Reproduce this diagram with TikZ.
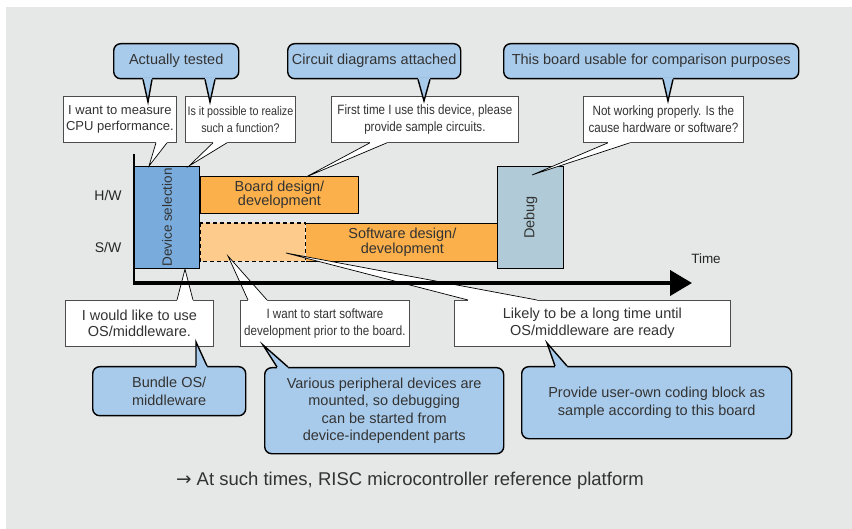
\documentclass[tikz,border=0pt]{standalone}
\usepackage{fontspec}
\setmainfont{Liberation Sans}
\newfontfamily\narrowsans[FakeStretch=0.86]{Liberation Sans}
\newfontfamily\arrowsans{DejaVu Sans}
\usetikzlibrary{arrows.meta,positioning,calc}
\definecolor{panelgrey}{HTML}{E6E7E7}
\definecolor{calloutblue}{HTML}{A9CBEB}
\definecolor{deviceblue}{HTML}{79ACDD}
\definecolor{phaseorange}{HTML}{FBB04B}
\definecolor{phaselight}{HTML}{FDCB8C}
\definecolor{debugblue}{HTML}{B0CBD7}
\definecolor{inkgrey}{HTML}{333333}
\tikzset{
  askbox/.style={
    rectangle,
    draw=black!70,
    fill=white,
    line width=0.8pt,
    align=center,
    anchor=north west,
    inner sep=2pt,
    text=inkgrey,
    font=\fontsize{14.5pt}{16.7pt}\selectfont
  },
  asknarrow/.style={
    askbox,
    font=\narrowsans\fontsize{13.5pt}{16.7pt}\selectfont
  },
  answerbox/.style={
    rectangle,
    draw=black,
    fill=calloutblue,
    line width=1.4pt,
    rounded corners=7pt,
    align=center,
    anchor=north west,
    text=inkgrey,
    font=\fontsize{14.5pt}{17.5pt}\selectfont
  },
  phasebox/.style={
    rectangle,
    draw=black,
    line width=0.9pt,
    align=center,
    anchor=north west,
    text=inkgrey,
    font=\fontsize{14.5pt}{14.5pt}\selectfont
  },
  phasetext/.style={
    rotate=90,
    text=inkgrey,
    font=\fontsize{13.5pt}{14pt}\selectfont
  },
  axislabel/.style={
    text=black!85,
    font=\fontsize{14pt}{16pt}\selectfont
  },
  askptr/.style={fill=white},
  askptrline/.style={draw=black, line width=0.7pt},
  answerptr/.style={fill=calloutblue},
  answerptrline/.style={draw=black, line width=1.4pt}
}
% #1 kind, #2 and #3 base on the source box, #4 tip, #5 shift into the source box
\newcommand{\callptr}[5]{%
  \fill[#1ptr] ($#2+#5$) -- ($#2$) -- ($#4$) -- ($#3$) -- ($#3+#5$) -- cycle;
  \draw[#1ptrline] ($#2$) -- ($#4$) -- ($#3$);
}

\begin{document}
\begin{tikzpicture}[x=1pt,y=-1pt]
  \useasboundingbox (0,0) rectangle (852,529);
  \fill[panelgrey] (6,7) rectangle (852,529);

  % phases on the time line
  \node[phasebox,fill=deviceblue,line width=1.2pt,minimum width=65pt,minimum height=102pt] (device) at (134,166) {};
  \node[phasetext] (devicetext) at (device.center) {Device selection};
  \node[phasebox,fill=phaseorange,minimum width=158pt,minimum height=37pt] (board) at (200,176)
    {Board design/\\development};
  \node[phasebox,draw=none,fill=phaselight,minimum width=105pt,minimum height=38pt] (swpre) at (200,223) {};
  \node[phasebox,draw=none,fill=phaseorange,minimum width=192pt,minimum height=38pt,right=0pt of swpre] (software)
    {Software design/\\development};
  \draw[line width=0.9pt] (software.north west) -- (software.north east)
    -- (software.south east) -- (software.south west);
  \draw[line width=1.1pt,dash pattern=on 4pt off 3pt] (swpre.north west) rectangle (swpre.south east);
  \node[phasebox,fill=debugblue,line width=1.2pt,minimum width=66pt,minimum height=102pt] (debug) at (497,166) {};
  \node[phasetext,font=\fontsize{14.5pt}{15pt}\selectfont] (debugtext) at (debug.center) {Debug};

  % questions
  \node[askbox,minimum width=113pt,minimum height=46pt,font=\fontsize{13pt}{16.7pt}\selectfont] (measure) at (63,96)
    {I want to measure\\CPU performance.};
  \node[asknarrow,minimum width=110pt,minimum height=46pt,font=\narrowsans\fontsize{12.5pt}{16.7pt}\selectfont] (realize) at (185,96)
    {Is it possible to realize\\such a function?};
  \node[asknarrow,minimum width=187pt,minimum height=46pt] (firsttime) at (331,96)
    {First time I use this device, please\\provide sample circuits.};
  \node[asknarrow,minimum width=160pt,minimum height=46pt] (notworking) at (583,96)
    {Not working properly. Is the\\cause hardware or software?};
  \node[askbox,minimum width=148pt,minimum height=46pt] (osuse) at (65,300)
    {I would like to use\\OS/middleware.};
  \node[asknarrow,minimum width=169pt,minimum height=46pt] (swstart) at (240,300)
    {I want to start software\\development prior to the board.};
  \node[askbox,minimum width=276pt,minimum height=46pt] (longtime) at (454,300)
    {Likely to be a long time until\\OS/middleware are ready};

  \callptr{ask}{(measure.south west)+(93,0)}{(measure.south west)+(104,0)}{(device.north west)+(15,0)}{(0,-1.2)}
  \callptr{ask}{(realize.south west)+(28,0)}{(realize.south west)+(42,0)}{(device.north west)+(55,0)}{(0,-1.2)}
  \callptr{ask}{(firsttime.south west)+(39,0)}{(firsttime.south west)+(56,0)}{(board.north west)+(106,1)}{(0,-1.2)}
  \callptr{ask}{(notworking.south west)+(25,0)}{(notworking.south west)+(47,0)}{(debug.north west)+(35,9)}{(0,-1.2)}
  \callptr{ask}{(osuse.north west)+(112,0)}{(osuse.north west)+(128,0)}{(device.south west)+(51,0)}{(0,1.2)}
  \callptr{ask}{(swstart.north west)+(8,0)}{(swstart.north west)+(27,0)}{(swpre.north west)+(28,33)}{(0,1.2)}
  \callptr{ask}{(longtime.north west)+(14,0)}{(longtime.north west)+(83,0)}{(swpre.north west)+(86,30)}{(0,1.2)}

  % time axis
  \coordinate (axistop) at (134,154);
  \coordinate (origin) at (134,283);
  \coordinate (timeend) at (692,283);
  \draw[line width=1.5pt] (axistop) -- (origin);
  \draw[line width=4pt,-{Triangle[length=22pt,width=25pt]}] ($(origin)+(-0.75,0)$) -- (timeend);
  \node[axislabel] (hwlabel) at (108,195) {H/W};
  \node[axislabel] (swlabel) at (108,247) {S/W};
  \node[axislabel,font=\fontsize{13.5pt}{15pt}\selectfont] (timelabel) at (706,259) {Time};

  % answers
  \node[answerbox,minimum width=125pt,minimum height=35pt] (tested) at (113,43) {Actually tested};
  \node[answerbox,minimum width=173pt,minimum height=35pt] (circuit) at (287,43) {Circuit diagrams attached};
  \node[answerbox,minimum width=295pt,minimum height=35pt] (compare) at (503,43)
    {This board usable for comparison purposes};
  \node[answerbox,minimum width=153pt,minimum height=49pt] (bundle) at (92,366) {Bundle OS/\\middleware};
  \node[answerbox,minimum width=239pt,minimum height=86pt] (various) at (264,367)
    {Various peripheral devices are\\mounted, so debugging\\can be started from\\device-independent parts};
  \node[answerbox,minimum width=270pt,minimum height=72pt] (usercode) at (521,366)
    {Provide user-own coding block as\\sample according to this board};

  \callptr{answer}{(tested.south west)+(30,0)}{(tested.south west)+(39,0)}{(measure.north west)+(85,6)}{(0,-2)}
  \callptr{answer}{(tested.south west)+(92,0)}{(tested.south west)+(102,0)}{(realize.north west)+(25,6)}{(0,-2)}
  \callptr{answer}{(circuit.south west)+(131,0)}{(circuit.south west)+(143,0)}{(firsttime.north west)+(93,5)}{(0,-2)}
  \callptr{answer}{(compare.south west)+(160,0)}{(compare.south west)+(170,0)}{(notworking.north west)+(85,5)}{(0,-2)}
  \callptr{answer}{(bundle.north west)+(104,0)}{(bundle.north west)+(115,0)}{(osuse.north west)+(131,42)}{(0,2)}
  \callptr{answer}{(various.north west)+(13,0)}{(various.north west)+(24,0)}{(swstart.north west)+(23,45)}{(0,2)}
  \callptr{answer}{(usercode.north west)+(34,0)}{(usercode.north west)+(46,0)}{(longtime.north west)+(93,43)}{(0,2)}

  \node[text=inkgrey,font=\fontsize{18.5pt}{20pt}\selectfont] (summary) at (410,481)
    {{\arrowsans →} At such times, RISC microcontroller reference platform};
\end{tikzpicture}
\end{document}
